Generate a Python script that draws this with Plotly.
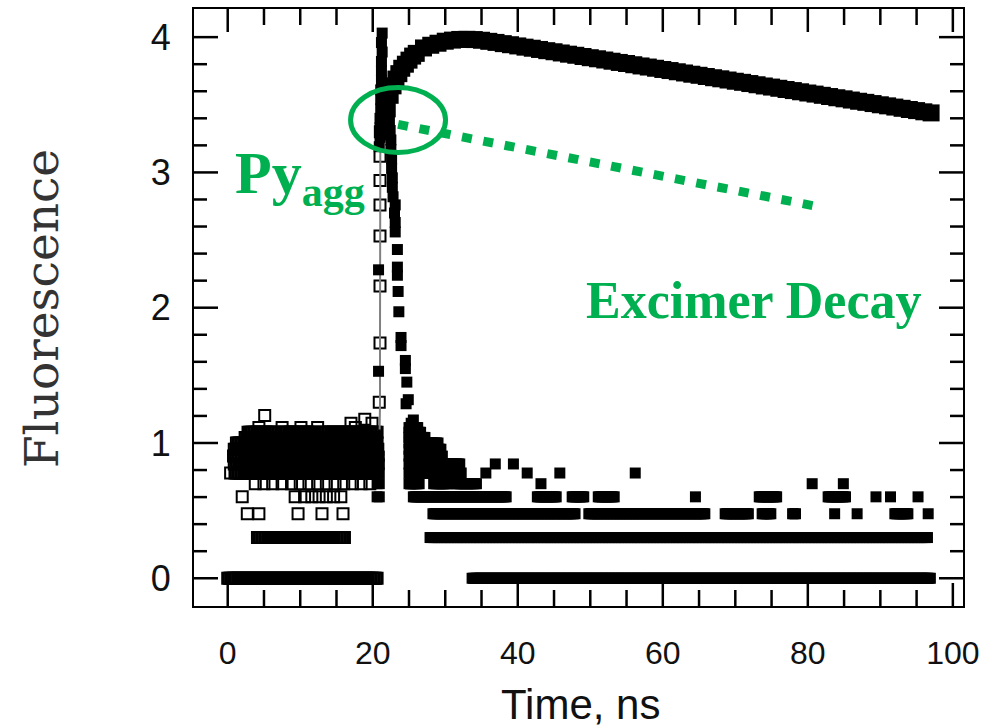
import plotly.graph_objects as go

# ------------------------------------------------------------------
# Data.  y = log10(photon counts) per time channel.
# Dense stretches of channels sitting on one count level are stored as
# runs (level, first channel time, last channel time); single squares
# are stored as points.
# ------------------------------------------------------------------
CHANNEL_NS = 0.2  # spacing of the time channels

# ---- open squares: instrument response (Py_agg) ----
irf_run_level = [0.000, 0.301, 0.778, 0.845, 0.903, 0.954, 1.000, 1.041, 1.079, 1.079, 1.079]
irf_run_start = [0.0, 4.1, 1.0, 0.9, 0.8, 0.9, 1.2, 2.4, 2.8, 7.4, 13.0]
irf_run_end = [20.7, 16.0, 20.6, 20.6, 20.6, 20.6, 20.6, 20.5, 6.6, 12.0, 20.5]

irf_pt_t = [2.7, 4.3, 9.7, 13.0, 15.9,
            2.0, 9.3, 10.6, 11.6, 12.6, 13.6, 14.6, 15.6,
            3.8, 5.0, 6.2, 7.5, 8.8, 10.0, 11.2, 12.4, 13.6, 14.8, 16.0, 17.2, 18.4, 19.6,
            0.4, 4.3, 7.5, 10.1, 12.4, 17.6, 17.0, 19.9, 18.9, 5.1,
            20.9, 21.0, 21.0, 21.0, 21.0, 21.0, 21.0, 21.05]
irf_pt_y = [0.477, 0.477, 0.477, 0.477, 0.477,
            0.602, 0.602, 0.602, 0.602, 0.602, 0.602, 0.602, 0.602,
            0.699, 0.699, 0.699, 0.699, 0.699, 0.699, 0.699, 0.699, 0.699, 0.699, 0.699, 0.699, 0.699, 0.699,
            0.778, 1.114, 1.114, 1.114, 1.114, 1.114, 1.146, 1.146, 1.176, 1.204,
            1.301, 1.740, 2.160, 2.530, 2.760, 2.940, 3.120, 3.300]

# thin line through the rising edge of the response
irf_line_t = [20.95, 21.0, 21.0, 21.0, 21.0, 21.0, 21.0, 21.0, 21.05]
irf_line_y = [1.10, 1.30, 1.74, 2.16, 2.53, 2.76, 2.94, 3.12, 3.30]

# ---- filled squares: fast (monomer) decay ----
fast_run_level = [1.114, 1.079, 1.041, 1.000, 0.954, 0.903, 0.845, 0.778,
                  0.699, 0.699, 0.699,
                  0.602, 0.602, 0.602, 0.602, 0.602, 0.602,
                  0.477, 0.477, 0.477, 0.477, 0.477, 0.477,
                  0.301, 0.000]
fast_run_start = [25.0, 25.0, 25.0, 25.0, 25.0, 25.0, 25.0, 25.0,
                  25.0, 28.4, 31.5,
                  25.6, 42.7, 47.5, 51.1, 73.3, 82.8,
                  28.3, 49.8, 68.6, 73.7, 77.9, 92.0,
                  27.9, 33.7]
fast_run_end = [26.2, 26.6, 27.2, 29.0, 29.4, 29.6, 32.0, 32.3,
                26.4, 30.3, 34.4,
                38.5, 45.4, 49.0, 53.4, 75.8, 85.2,
                48.0, 65.7, 71.8, 75.0, 78.4, 93.7,
                96.5, 96.9]

fast_pt_t = [20.6, 20.6, 20.6, 20.9, 20.9, 20.9, 20.9, 20.9,
             20.8, 20.8,
             20.9, 21.0, 21.0, 21.0, 21.1, 21.1, 21.1, 21.2, 21.2, 21.2, 21.3, 21.2, 21.3,
             22.2, 22.3, 22.4, 22.5, 22.5, 22.6, 22.6, 22.7, 22.7, 22.8,
             23.1, 23.0, 23.1, 23.1, 23.4, 23.4, 23.4, 23.5, 23.6, 23.9, 23.9,
             24.5, 24.5, 24.7, 24.9, 24.6, 25.6, 25.3, 25.2,
             64.5, 89.4, 91.4, 95.2, 83.7, 86.8, 96.6,
             43.2, 80.6, 84.9, 35.6, 41.3, 45.8, 56.2, 36.9, 39.4]
fast_pt_y = [0.602, 0.699, 0.778, 0.602, 0.699, 0.778, 0.845, 0.903,
             1.530, 2.280,
             3.190, 3.260, 3.330, 3.400, 3.470, 3.540, 3.610, 3.680, 3.750, 3.820, 3.890, 3.960, 4.030,
             3.450, 3.380, 3.310, 3.240, 3.170, 3.100, 3.030, 2.960, 2.890, 2.820,
             2.760, 2.700, 2.630, 2.560, 2.430, 2.300, 2.240, 2.120, 1.970, 1.780, 1.720,
             1.610, 1.550, 1.450, 1.320, 1.290, 1.170, 1.146, 0.699,
             0.602, 0.602, 0.602, 0.602, 0.477, 0.477, 0.477,
             0.699, 0.699, 0.699, 0.778, 0.778, 0.778, 0.778, 0.845, 0.845]

# ---- filled squares: excimer rise and decay ----
excimer_t = [21.6, 22.0, 22.4, 22.8, 23.2, 23.6, 24.0, 24.5, 25.0, 25.5, 26.0,
             27, 28, 29, 30, 31, 32, 33, 34, 35, 36, 37, 38, 39, 40,
             41, 42, 43, 44, 45, 46, 47, 48, 49, 50, 51, 52, 53, 54, 55,
             56, 57, 58, 59, 60, 61, 62, 63, 64, 65, 66, 67, 68, 69, 70,
             71, 72, 73, 74, 75, 76, 77, 78, 79, 80, 81, 82, 83, 84, 85,
             86, 87, 88, 89, 90, 91, 92, 93, 94, 95, 96, 97]
excimer_y = [3.30, 3.47, 3.57, 3.64, 3.69, 3.73, 3.77, 3.80, 3.83, 3.86, 3.88,
             3.92, 3.94, 3.955, 3.97, 3.978, 3.983, 3.984, 3.982, 3.977, 3.969, 3.961, 3.952, 3.944, 3.935,
             3.926, 3.918, 3.909, 3.900, 3.892, 3.883, 3.874, 3.866, 3.857, 3.848, 3.840, 3.831, 3.822, 3.813, 3.805,
             3.796, 3.787, 3.779, 3.770, 3.761, 3.753, 3.744, 3.735, 3.726, 3.718, 3.709, 3.700, 3.692, 3.683, 3.674,
             3.666, 3.657, 3.648, 3.639, 3.631, 3.622, 3.613, 3.605, 3.596, 3.587, 3.579, 3.570, 3.561, 3.552, 3.544,
             3.535, 3.526, 3.518, 3.509, 3.500, 3.492, 3.483, 3.474, 3.465, 3.457, 3.448, 3.440]

x_tick_vals = [0, 20, 40, 60, 80, 100]
y_tick_vals = [0, 1, 2, 3, 4]
x_minor_vals = [5, 10, 15, 25, 30, 35, 45, 50, 55, 65, 70, 75, 85, 90, 95]
y_minor_vals = [0.2, 0.4, 0.6, 0.8, 1.2, 1.4, 1.6, 1.8, 2.2, 2.4, 2.6, 2.8, 3.2, 3.4, 3.6, 3.8]


def expand_runs(levels, starts, ends, step):
    ts, ys = [], []
    for lv, a, b in zip(levels, starts, ends):
        n = int(round((b - a) / step))
        for k in range(n + 1):
            ts.append(round(a + k * step, 3))
            ys.append(lv)
    return ts, ys


irf_rt, irf_ry = expand_runs(irf_run_level, irf_run_start, irf_run_end, CHANNEL_NS)
fast_rt, fast_ry = expand_runs(fast_run_level, fast_run_start, fast_run_end, CHANNEL_NS)

GREEN = "#00B050"
SANS = "Liberation Sans, Arial, sans-serif"
XRANGE = [-4.65, 101.4]
YRANGE = [-0.205, 4.208]
W, H = 999, 727
M = dict(l=194, r=36, t=9, b=121)
X_PER_PX = (XRANGE[1] - XRANGE[0]) / (W - M["l"] - M["r"])
Y_PER_PX = (YRANGE[1] - YRANGE[0]) / (H - M["t"] - M["b"])

fig = go.Figure()
fig.add_trace(go.Scatter(
    x=irf_rt + irf_pt_t, y=irf_ry + irf_pt_y, mode="markers",
    marker=dict(symbol="square-open", size=11, color="black", line=dict(width=2, color="black")),
    hoverinfo="skip", showlegend=False))
fig.add_trace(go.Scatter(
    x=irf_line_t, y=irf_line_y, mode="lines",
    line=dict(color="#808080", width=2), hoverinfo="skip", showlegend=False))
fig.add_trace(go.Scatter(
    x=fast_rt + fast_pt_t, y=fast_ry + fast_pt_y, mode="markers",
    marker=dict(symbol="square", size=11, color="black", line=dict(width=0)),
    hoverinfo="skip", showlegend=False))
fig.add_trace(go.Scatter(
    x=excimer_t, y=excimer_y, mode="markers",
    marker=dict(symbol="square", size=17, color="black", line=dict(width=0)),
    hoverinfo="skip", showlegend=False))

# inside tick marks on all four sides, as line shapes on the axis scales
TICK = dict(color="black", width=2.5)
for vals, length in ((x_tick_vals, 23), (x_minor_vals, 16)):
    for v in vals:
        fig.add_shape(type="line", xref="x", yref="y", x0=v, x1=v,
                      y0=YRANGE[0], y1=YRANGE[0] + length * Y_PER_PX, line=TICK)
        fig.add_shape(type="line", xref="x", yref="y", x0=v, x1=v,
                      y0=YRANGE[1], y1=YRANGE[1] - length * Y_PER_PX, line=TICK)
for vals, length in ((y_tick_vals, 24), (y_minor_vals, 13)):
    for v in vals:
        fig.add_shape(type="line", xref="x", yref="y", y0=v, y1=v,
                      x0=XRANGE[0], x1=XRANGE[0] + length * X_PER_PX, line=TICK)
        fig.add_shape(type="line", xref="x", yref="y", y0=v, y1=v,
                      x0=XRANGE[1], x1=XRANGE[1] - length * X_PER_PX, line=TICK)

# green highlight: ellipse + dotted trend line
fig.add_shape(type="circle", xref="x", yref="y", x0=16.94, x1=30.04, y0=3.147, y1=3.627,
              line=dict(color=GREEN, width=5))
fig.add_shape(type="line", xref="x", yref="y", x0=23.5, y0=3.355, x1=81.6, y1=2.745,
              line=dict(color=GREEN, width=9, dash="10px,11.7px"))

fig.add_annotation(x=0.7, y=2.96, xref="x", yref="y", xanchor="left", yanchor="middle",
                   text="<b>Py<sub>agg</sub></b>", showarrow=False,
                   font=dict(family="Liberation Serif, Times New Roman, serif", size=60, color=GREEN))
fig.add_annotation(x=72.45, y=2.05, xref="x", yref="y", xanchor="center", yanchor="middle",
                   text="<b>Excimer Decay</b>", showarrow=False,
                   font=dict(family="Liberation Serif, Times New Roman, serif", size=52, color=GREEN))

# axis titles placed precisely in the margins
fig.add_annotation(x=(42 - M["l"]) / (W - M["l"] - M["r"]), y=0.4975, xref="paper", yref="paper",
                   xanchor="center", yanchor="middle", textangle=-90, text="Fluorescence", showarrow=False,
                   font=dict(family="DejaVu Serif, serif", size=47, color="#333"))
fig.add_annotation(x=0.503, y=-0.1658, xref="paper", yref="paper",
                   xanchor="center", yanchor="middle", text="Time, ns", showarrow=False,
                   font=dict(family=SANS, size=42, color="#111"))

fig.update_layout(
    xaxis=dict(range=XRANGE, tickmode="array", tickvals=x_tick_vals, ticks="",
               showgrid=False, zeroline=False, showline=True, linecolor="black", linewidth=2, mirror=True,
               tickfont=dict(family=SANS, size=32, color="#111"), ticklabelstandoff=18),
    yaxis=dict(range=YRANGE, tickmode="array", tickvals=y_tick_vals, ticks="",
               showgrid=False, zeroline=False, showline=True, linecolor="black", linewidth=2, mirror=True,
               tickfont=dict(family=SANS, size=36, color="#111"), ticklabelstandoff=14),
    width=W, height=H, margin=dict(M, autoexpand=False),
    paper_bgcolor="white", plot_bgcolor="white")

fig.write_html("out.html")
